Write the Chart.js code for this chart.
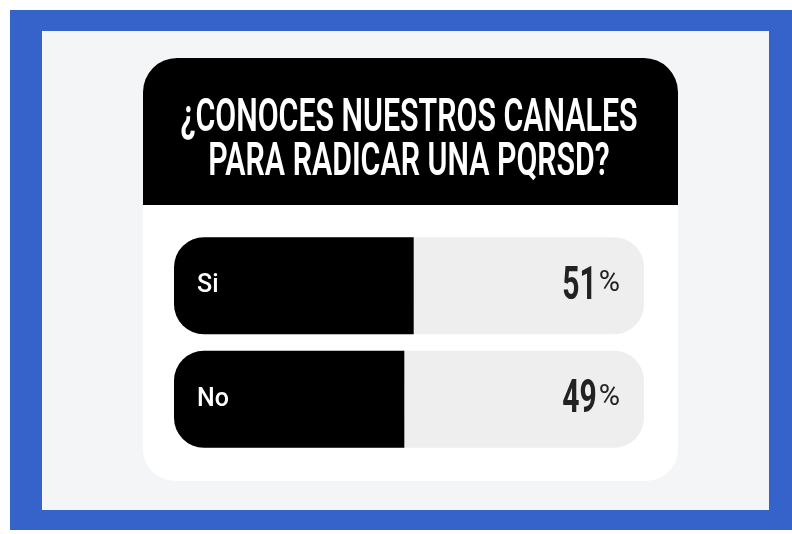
<!DOCTYPE html>
<html>
<head>
<meta charset="utf-8">
<script src="https://cdn.jsdelivr.net/npm/chart.js@4.4.0/dist/chart.umd.min.js"></script>
<style>
    html, body { margin: 0; padding: 0; background: #ffffff; }
    canvas { display: block; }
</style>
</head>
<body>
<canvas id="pollChart" width="792" height="534"></canvas>
<script>
// Poll data
const titleLines = ['¿CONOCES NUESTROS CANALES', 'PARA RADICAR UNA PQRSD?'];
const answers = ['Si', 'No'];
const votes = [51, 49];
const totals = [100, 100];

// frame: blue border, card, black header with title
const framePlugin = {
    id: 'frame',
    beforeDraw(chart) {
        const ctx = chart.ctx;
        ctx.save();
        ctx.fillStyle = '#ffffff';
        ctx.fillRect(0, 0, chart.width, chart.height);
        ctx.fillStyle = '#3563c9';
        ctx.fillRect(10, 10, 782, 520);
        ctx.fillStyle = '#f4f5f6';
        ctx.fillRect(42, 31, 727, 479);

        ctx.fillStyle = '#ffffff';
        ctx.beginPath();
        ctx.roundRect(143, 58, 535, 423, 32);
        ctx.fill();

        ctx.fillStyle = '#000000';
        ctx.beginPath();
        ctx.roundRect(143, 58, 535, 147, [34, 34, 0, 0]);
        ctx.fill();

        // condensed title
        ctx.fillStyle = '#ffffff';
        ctx.textAlign = 'center';
        ctx.textBaseline = 'middle';
        ctx.font = '600 47px Roboto, "DejaVu Sans"';
        const sx = 457 / ctx.measureText(titleLines[0]).width;
        const ys = [119, 163];
        titleLines.forEach((line, i) => {
            ctx.save();
            ctx.translate(409, ys[i]);
            ctx.scale(sx, 1);
            ctx.fillText(line, 0, 0);
            ctx.restore();
        });
        ctx.restore();
    }
};

// answer labels and percentages
const labelPlugin = {
    id: 'pollLabels',
    afterDatasetsDraw(chart) {
        const ctx = chart.ctx;
        const meta = chart.getDatasetMeta(0);
        const area = chart.chartArea;
        ctx.save();
        meta.data.forEach((bar, i) => {
            ctx.textBaseline = 'middle';
            ctx.textAlign = 'left';
            ctx.fillStyle = '#ffffff';
            ctx.font = '500 25px Roboto';
            ctx.fillText(answers[i], area.left + 23, bar.y);

            ctx.fillStyle = '#222222';
            ctx.textAlign = 'right';
            ctx.font = '400 29px Roboto';
            const pct = '%';
            const pctW = ctx.measureText(pct).width;
            const right = area.right - 24;
            ctx.fillText(pct, right, bar.y - 2);

            ctx.font = 'bold 47px Roboto';
            ctx.save();
            ctx.translate(right - pctW - 2, bar.y + 1);
            ctx.scale(0.64, 1);
            ctx.fillText(String(votes[i]), 0, 0);
            ctx.restore();
        });
        ctx.restore();
    }
};

const ctxPoll = document.getElementById('pollChart');
const pollChart = new Chart(ctxPoll, {
    type: 'bar',
    data: {
        labels: answers,
        datasets: [{
            label: 'Votos',
            data: votes,
            backgroundColor: '#000000',
            borderWidth: 0,
            borderRadius: 30,
            borderSkipped: 'right',
            barThickness: 97,
            grouped: false,
            inflateAmount: 0
        }, {
            label: 'Total',
            data: totals,
            backgroundColor: '#eeeeee',
            borderWidth: 0,
            borderRadius: 30,
            borderSkipped: false,
            barThickness: 97,
            grouped: false,
            inflateAmount: 0
        }]
    },
    options: {
        indexAxis: 'y',
        responsive: false,
        animation: false,
        layout: {
            padding: { left: 174, right: 148, top: 229, bottom: 78 }
        },
        plugins: {
            legend: { display: false },
            tooltip: { enabled: false }
        },
        scales: {
            x: { display: false, min: 0, max: 100 },
            y: { display: false }
        }
    },
    plugins: [framePlugin, labelPlugin]
});
</script>
</body>
</html>
